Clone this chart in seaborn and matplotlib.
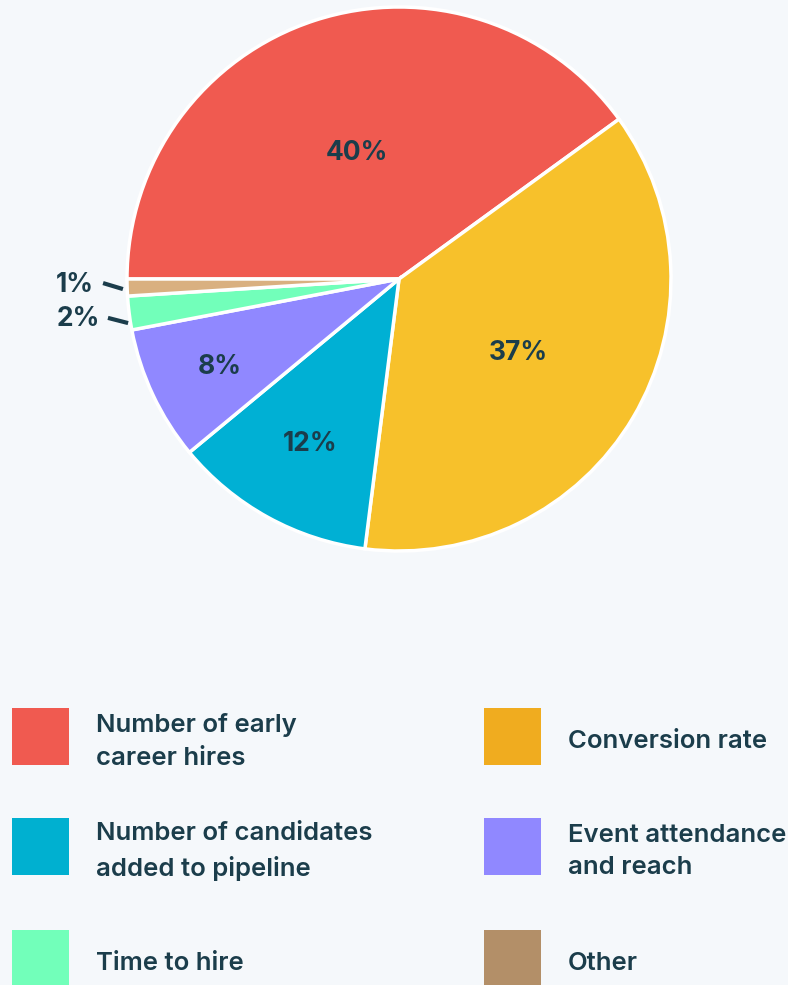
import numpy as np
import seaborn as sns
import matplotlib.pyplot as plt
from matplotlib.patches import Rectangle

# ----------------------
# Data
# ----------------------
categories = ['Number of early\ncareer hires', 'Conversion rate',
              'Number of candidates\nadded to pipeline', 'Event attendance\nand reach',
              'Time to hire', 'Other']
shares = [40, 37, 12, 8, 2, 1]
pie_colors = ['#F05A50', '#F7C12B', '#00B0D4', '#9088FF', '#72FFBA', '#D9B080']
legend_colors = ['#F05A50', '#F0AC1F', '#00B0D0', '#9088FF', '#72FFBA', '#B38F68']

bg = '#F5F8FB'
ink = '#1B3D4B'

sns.set_theme(style='white')
plt.rcParams['font.family'] = ['Inter', 'DejaVu Sans']

fig = plt.figure(figsize=(7.88, 9.85), dpi=100, facecolor=bg)
W, H = 788, 985

# pie axes placed in pixel terms: centre (399, 279), radius 272
cx, cy, R = 399, 279, 272
ax = fig.add_axes([(cx - R) / W, (H - cy - R) / H, 2 * R / W, 2 * R / H])
ax.set_facecolor(bg)

wedges, _ = ax.pie(shares, colors=pie_colors, startangle=180, counterclock=False,
                   radius=1.0, wedgeprops=dict(edgecolor='white', linewidth=2.5))
ax.set_xlim(-1, 1)
ax.set_ylim(-1, 1)
ax.set_aspect('equal')
ax.axis('off')

# label radius per inside slice
label_r = [0.5, 0.51, 0.68, 0.73]
for w, val, r in zip(wedges[:4], shares[:4], label_r):
    mid = np.deg2rad((w.theta1 + w.theta2) / 2)
    ax.text(r * np.cos(mid), r * np.sin(mid), f'{val}%', ha='center',
            va='center_baseline', fontsize=19, fontweight='bold', color=ink)

# small slices: outside labels with short leader lines
outside = [((-1.18, -0.136), (-1.07, -0.143), (-0.996, -0.162)),
           ((-1.191, -0.011), (-1.088, -0.015), (-1.015, -0.037))]
for (txt_xy, l0, l1), val in zip(outside, shares[4:]):
    ax.text(txt_xy[0], txt_xy[1], f'{val}%', ha='center', va='center_baseline',
            fontsize=19, fontweight='bold', color=ink, clip_on=False)
    ax.plot([l0[0], l1[0]], [l0[1], l1[1]], color=ink, lw=3, clip_on=False,
            solid_capstyle='butt')

# ----------------------
# Legend (2 columns, row-major)
# ----------------------
col_x = [12, 484]
row_y = [708, 818, 930]
sw = 57
for i, (lab, col) in enumerate(zip(categories, legend_colors)):
    x0 = col_x[i % 2]
    y0 = row_y[i // 2]
    fig.patches.append(Rectangle((x0 / W, 1 - (y0 + sw) / H), sw / W, sw / H,
                                 transform=fig.transFigure, facecolor=col,
                                 edgecolor='none'))
    fig.text((x0 + 84) / W, 1 - (y0 + sw / 2 + 5) / H, lab, ha='left', va='center',
             fontsize=18.5, fontweight='semibold', color=ink, linespacing=1.55)

fig.savefig('out.png', dpi=100, facecolor=bg)
